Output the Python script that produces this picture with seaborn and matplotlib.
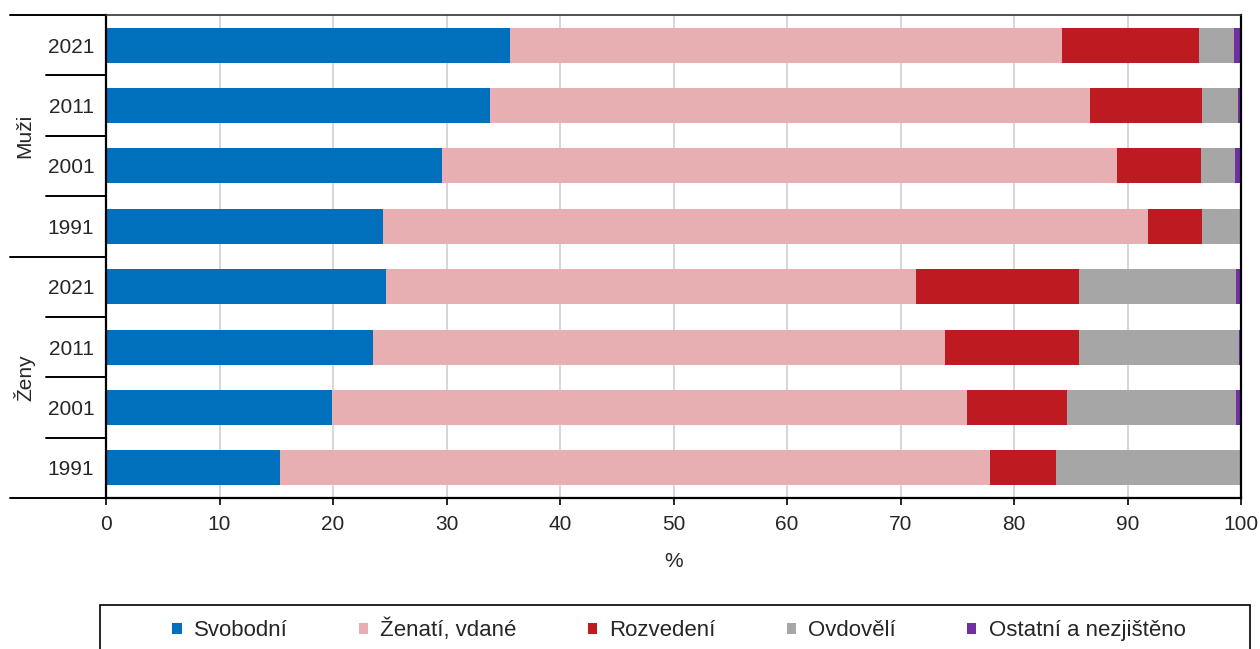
import numpy as np
import pandas as pd
import seaborn as sns
import matplotlib.pyplot as plt
from matplotlib.patches import Patch, Rectangle
import matplotlib.transforms as mtransforms

sns.set_style("white")
plt.rcParams['font.family'] = ['Liberation Sans', 'DejaVu Sans']

groups = ['Muži', 'Muži', 'Muži', 'Muži', 'Ženy', 'Ženy', 'Ženy', 'Ženy']
years = ['2021', '2011', '2001', '1991', '2021', '2011', '2001', '1991']

series = ['Svobodní', 'Ženatí, vdané', 'Rozvedení', 'Ovdovělí', 'Ostatní a nezjištěno']
svobodni = [35.6, 33.8, 29.6, 24.4, 24.7, 23.5, 19.9, 15.3]
zenati = [48.6, 52.9, 59.5, 67.4, 46.7, 50.4, 56.0, 62.6]
rozvedeni = [12.1, 9.9, 7.4, 4.8, 14.3, 11.8, 8.8, 5.8]
ovdoveli = [3.1, 3.1, 3.0, 3.4, 13.9, 14.1, 14.9, 16.3]
ostatni = [0.6, 0.3, 0.5, 0.0, 0.4, 0.2, 0.4, 0.0]

colors = ['#0070BC', '#E8AFB2', '#BE1A22', '#A6A6A6', '#7030A0']

rows = [f'{g} {y}' for g, y in zip(groups, years)]
values = np.array([svobodni, zenati, rozvedeni, ovdoveli, ostatni])
cum = np.cumsum(values, axis=0)

fig = plt.figure(figsize=(12.6, 6.49), dpi=100)
ax = fig.add_axes([106 / 1260, 1 - 498 / 649, 1135 / 1260, 483 / 649])

# stacked bars: draw cumulative totals back to front
for i in range(len(series) - 1, -1, -1):
    df = pd.DataFrame({'row': rows, 'value': cum[i]})
    sns.barplot(data=df, y='row', x='value', order=rows, color=colors[i],
                width=0.58, linewidth=0, saturation=1, ax=ax, zorder=2)

fs = 15
ax.set_xlim(0, 100)
ax.set_ylim(7.5, -0.5)
ax.set_xticks(np.arange(0, 101, 10))
ax.xaxis.grid(True, color='#D0D0D0', linewidth=1.2, zorder=0)
ax.set_axisbelow(True)
ax.tick_params(axis='x', bottom=True, length=5, width=1.2, color='black',
               labelsize=fs, pad=7)
ax.tick_params(axis='y', left=False, labelsize=fs, pad=5)
ax.set_yticks(range(len(rows)))
ax.set_yticklabels(years)
ax.set_ylabel('')
ax.set_xlabel('%', fontsize=fs, labelpad=13)

for side in ['left', 'bottom', 'right']:
    ax.spines[side].set_color('black')
    ax.spines[side].set_linewidth(1.6)
ax.spines['top'].set_color('#333333')
ax.spines['top'].set_linewidth(1.2)

# group separators left of the axis
trans = mtransforms.blended_transform_factory(ax.transAxes, ax.transData)
for y in [-0.5, 3.5, 7.5]:
    ax.plot([-0.0846, 0], [y, y], color='black', lw=1.4, transform=trans, clip_on=False)
for y in [0.5, 1.5, 2.5, 4.5, 5.5, 6.5]:
    ax.plot([-0.053, 0], [y, y], color='black', lw=1.4, transform=trans, clip_on=False)
ax.text(-0.0715, 1.5, 'Muži', rotation=90, ha='center', va='center',
        fontsize=fs, transform=trans)
ax.text(-0.0715, 5.5, 'Ženy', rotation=90, ha='center', va='center',
        fontsize=fs, transform=trans)

# legend with box running off the bottom edge
fig.patches.append(Rectangle((100 / 1260, -0.05), 1150 / 1260, 0.05 + (649 - 605) / 649,
                             transform=fig.transFigure, fill=False,
                             edgecolor='black', linewidth=1.2))
handles = [Patch(facecolor=c, edgecolor='none') for c in colors]
fig.legend(handles, series, loc='center', bbox_to_anchor=(679 / 1260, 1 - 630 / 649),
           ncol=5, frameon=False, fontsize=16, handlelength=0.42, handleheight=0.42,
           handletextpad=0.55, columnspacing=3.2)

fig.savefig('out.png', dpi=100)
